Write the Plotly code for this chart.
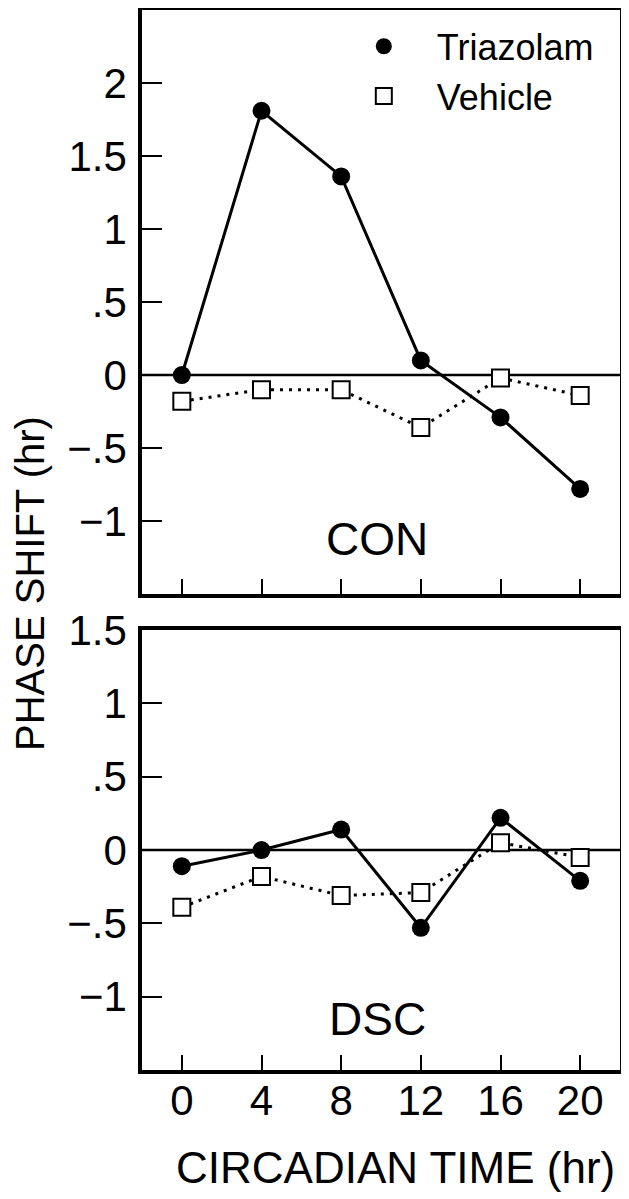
"""Phase shift vs circadian time, CON and DSC panels."""

import plotly.graph_objects as go

# circadian time of treatment (hr)
ct = [0, 4, 8, 12, 16, 20]

# CON panel
con_triazolam = [0.0, 1.81, 1.36, 0.10, -0.29, -0.78]
con_vehicle = [-0.18, -0.10, -0.10, -0.36, -0.02, -0.14]

# DSC panel
dsc_triazolam = [-0.11, 0.0, 0.14, -0.53, 0.22, -0.21]
dsc_vehicle = [-0.39, -0.18, -0.31, -0.29, 0.05, -0.05]

x_ticks = [0, 4, 8, 12, 16, 20]
top_ticks = [2, 1.5, 1, 0.5, 0, -0.5, -1]
top_labels = ["2", "1.5", "1", ".5", "0", "\u2212.5", "\u22121"]
bot_ticks = [1.5, 1, 0.5, 0, -0.5, -1]
bot_labels = ["1.5", "1", ".5", "0", "\u2212.5", "\u22121"]

FONT = "Liberation Sans"
BLACK = "#000000"

fig = go.Figure()


def add_panel(fig, tri, veh, xa, ya, legend):
    # connecting lines first, markers on top
    fig.add_trace(go.Scatter(
        x=ct, y=veh, mode="lines", xaxis=xa, yaxis=ya, showlegend=False,
        line=dict(color=BLACK, width=3, dash="3px,6px"),
    ))
    fig.add_trace(go.Scatter(
        x=ct, y=tri, mode="lines", xaxis=xa, yaxis=ya, showlegend=False,
        line=dict(color=BLACK, width=3),
    ))
    fig.add_trace(go.Scatter(
        x=ct, y=tri, mode="markers", xaxis=xa, yaxis=ya,
        name="Triazolam", showlegend=legend,
        marker=dict(symbol="circle", size=18, color=BLACK),
    ))
    fig.add_trace(go.Scatter(
        x=ct, y=veh, mode="markers", xaxis=xa, yaxis=ya,
        name="Vehicle", showlegend=legend,
        marker=dict(symbol="square", size=17, color="#ffffff",
                    line=dict(color=BLACK, width=2)),
    ))


add_panel(fig, con_triazolam, con_vehicle, "x", "y", True)
add_panel(fig, dsc_triazolam, dsc_vehicle, "x2", "y2", False)

axis_common = dict(
    showline=True, mirror=True, linecolor=BLACK, linewidth=3.5,
    showgrid=False, ticks="inside", tickcolor=BLACK, tickwidth=2,
    zeroline=False, automargin=False,
)

# page body adds an 8px offset, so the figure is 8px smaller each way
fig.update_layout(
    template="none",
    width=621, height=1191,
    plot_bgcolor="#ffffff", paper_bgcolor="#ffffff",
    margin=dict(l=134, r=9, t=2, b=129),
    font=dict(family=FONT, color=BLACK),
    xaxis=dict(
        **axis_common, domain=[0, 1], anchor="y", range=[-2, 22],
        tickvals=x_ticks, ticklen=15, showticklabels=False,
    ),
    yaxis=dict(
        **axis_common, domain=[0.449, 1], anchor="x", range=[-1.5, 2.5],
        tickvals=top_ticks, ticktext=top_labels, ticklen=20,
        tickfont=dict(size=42), ticklabelstandoff=3,
    ),
    xaxis2=dict(
        **axis_common, domain=[0, 1], anchor="y2", range=[-2, 22],
        tickvals=x_ticks, ticklen=15, tickfont=dict(size=42),
        ticklabelstandoff=-9,
    ),
    yaxis2=dict(
        **axis_common, domain=[0, 0.415], anchor="x2", range=[-1.5, 1.5],
        tickvals=bot_ticks, ticktext=bot_labels, ticklen=20,
        tickfont=dict(size=42), ticklabelstandoff=3,
    ),
    legend=dict(
        x=0.395, y=0.994, xanchor="left", yanchor="top",
        bgcolor="rgba(0,0,0,0)", borderwidth=0,
        font=dict(size=36), itemwidth=96, tracegroupgap=0,
    ),
    showlegend=True,
)

# zero reference lines
for ya in ["y", "y2"]:
    fig.add_hline(y=0, line=dict(color=BLACK, width=2.5),
                  yref=ya, xref="x" if ya == "y" else "x2", layer="below")

fig.add_annotation(text="CON", x=9.8, y=-1.12, xref="x", yref="y",
                   showarrow=False, font=dict(size=46))
fig.add_annotation(text="DSC", x=9.8, y=-1.15, xref="x2", yref="y2",
                   showarrow=False, font=dict(size=46))

# axis titles
fig.add_annotation(
    text="CIRCADIAN TIME (hr)", showarrow=False,
    xref="paper", yref="paper", x=(387 - 134) / 478, xanchor="center",
    y=(1062 - 1159) / 1060, yanchor="middle",
    font=dict(size=44),
)
fig.add_annotation(
    text="PHASE SHIFT (hr)", textangle=-90, showarrow=False,
    xref="paper", yref="paper", x=(22 - 134) / 478, xanchor="center",
    y=(1062 - 576) / 1060, yanchor="middle",
    font=dict(size=40),
)

fig.write_html("out.html")
